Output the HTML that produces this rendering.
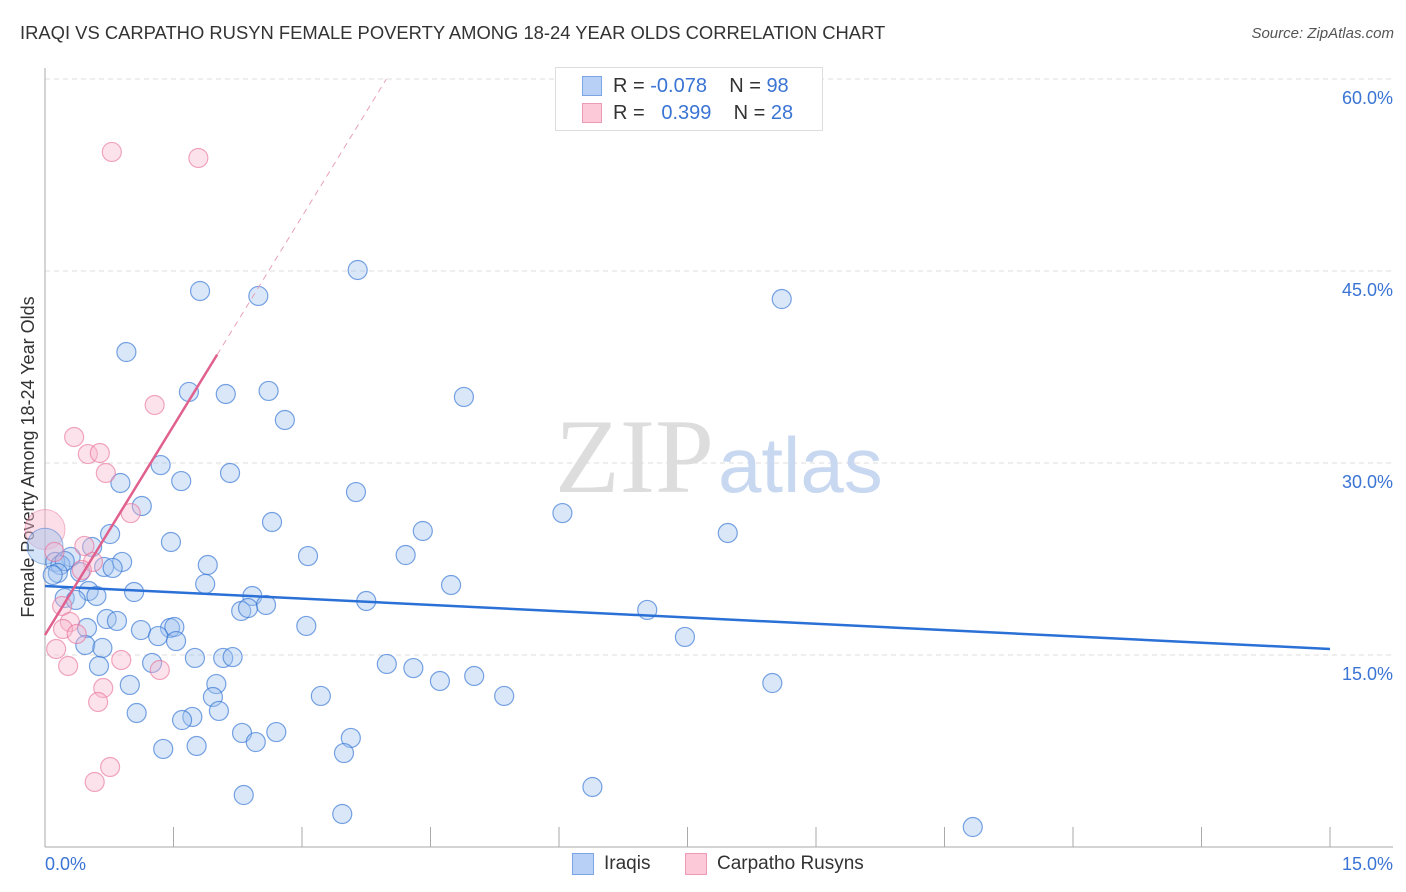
<!DOCTYPE html>
<html><head><meta charset="utf-8"><style>
body{margin:0;background:#fff;font-family:"Liberation Sans",sans-serif}
#w{position:relative;width:1406px;height:892px;overflow:hidden}
.t{position:absolute;white-space:nowrap}
</style></head><body>
<div id="w">
<div class="t" style="left:20px;top:22px;font-size:18.4px;color:#333">IRAQI VS CARPATHO RUSYN FEMALE POVERTY AMONG 18-24 YEAR OLDS CORRELATION CHART</div>
<div class="t" style="right:12px;top:25px;font-size:15px;color:#555;font-style:italic">Source: ZipAtlas.com</div>
<svg id="s" width="1406" height="892" style="position:absolute;left:0;top:0"></svg>
</div>
<script>
const xTicks=[0,1.5,3,4.5,6,7.5,9,10.5,12,13.5,15];
const yTicks=[15,30,45,60];
const yTickLabels=["15.0%","30.0%","45.0%","60.0%"];
const iraqX=[],iraqY=[];
const rusynX=[],rusynY=[];
const iraqPx=[[358,270],[200,291],[258,296],[782,299],[126,352],[189,392],[226,394],[269,391],[464,397],[285,420],[161,465],[230,473],[181,481],[120,483],[356,492],[142,506],[562,513],[272,522],[728,533],[423,531],[110,534],[171,542],[92,547],[308,556],[406,555],[208,565],[122,562],[104,567],[113,568],[71,557],[55,562],[60,565],[65,561],[58,573],[53,575],[80,572],[205,584],[451,585],[134,592],[89,591],[96,596],[65,598],[76,600],[252,596],[366,601],[241,611],[248,608],[266,605],[647,610],[107,619],[117,621],[87,628],[306,626],[141,630],[170,628],[174,627],[158,636],[176,641],[685,637],[85,645],[102,648],[152,663],[195,658],[223,658],[233,657],[387,664],[413,668],[99,666],[474,676],[440,681],[130,685],[216,684],[772,683],[321,696],[213,697],[504,696],[137,713],[219,711],[192,717],[182,720],[242,733],[276,732],[351,738],[256,742],[163,749],[197,746],[344,753],[592,787],[244,795],[342,814],[973,827]];
const rusynPx=[[112,152],[198,158],[155,405],[74,437],[88,454],[100,453],[106,473],[131,513],[84,546],[54,552],[93,562],[82,570],[62,606],[70,622],[63,629],[77,634],[56,649],[68,666],[121,660],[160,670],[103,688],[98,702],[110,767],[95,782]];
iraqPx.forEach(p=>{iraqX.push(+((p[0]-45)/1285*15).toFixed(2));iraqY.push(+((847-p[1])/12.8).toFixed(2));});
rusynPx.forEach(p=>{rusynX.push(+((p[0]-45)/1285*15).toFixed(2));rusynY.push(+((847-p[1])/12.8).toFixed(2));});
const bigRusyn=[0,24.8], bigIraq=[0,23.5];
const iraqTrend=[20.39,15.47];
const rusynTrend=[16.56,10.9];
const X=v=>45+v/15*1285, Y=v=>847-v*12.8;
const s=document.getElementById('s'),NS='http://www.w3.org/2000/svg';
function mk(t,a,name){const e=document.createElementNS(NS,t);for(const k in a)e.setAttribute(k,a[k]);


s.appendChild(e);return e;}
yTicks.forEach((v,i)=>{mk('line',{x1:45,x2:1393,y1:Y(v),y2:Y(v),stroke:'#ddd','stroke-dasharray':'5,4'},'gridline');
const t=mk('text',{x:1393,y:Y(v)+25,'text-anchor':'end','font-size':18,fill:'#3a74d4'},'y-tick-label');t.textContent=yTickLabels[i];});
mk('line',{x1:45,x2:45,y1:68,y2:847,stroke:'#aaa'},'y-axis');
mk('line',{x1:45,x2:1393,y1:847,y2:847,stroke:'#aaa'},'x-axis');
xTicks.forEach(v=>mk('line',{x1:X(v),x2:X(v),y1:827,y2:847,stroke:'#aaa'},'x-tick'));
let t=mk('text',{x:45,y:870,'font-size':18,fill:'#3a74d4'},'x-tick-label');t.textContent='0.0%';
t=mk('text',{x:1393,y:870,'text-anchor':'end','font-size':18,fill:'#3a74d4'},'x-tick-label');t.textContent='15.0%';
t=mk('text',{x:0,y:0,transform:'translate(34,457) rotate(-90)','text-anchor':'middle','font-size':18,fill:'#333'},'y-axis-title');t.textContent='Female Poverty Among 18-24 Year Olds';
t=mk('text',{x:714,y:492,'text-anchor':'end','font-size':106,fill:'#ddd','font-family':'Liberation Serif'},'watermark-zip');t.textContent='ZIP';
t=mk('text',{x:718,y:492,'font-size':78,fill:'#c8d8f0'},'watermark-atlas');t.textContent='atlas';
mk('circle',{cx:X(bigRusyn[0]),cy:Y(bigRusyn[1]),r:20,fill:'rgba(248,182,204,0.45)',stroke:'rgba(232,120,160,0.5)'},'rusyn-point');
mk('circle',{cx:X(bigIraq[0]),cy:Y(bigIraq[1]),r:18,fill:'rgba(160,195,240,0.45)',stroke:'rgba(60,120,210,0.5)'},'iraqi-point');
iraqX.forEach((x,i)=>mk('circle',{cx:X(x),cy:Y(iraqY[i]),r:9.5,fill:'rgba(160,195,240,0.4)',stroke:'rgba(50,115,210,0.65)','stroke-width':1.2},'iraqi-point'));
rusynX.forEach((x,i)=>mk('circle',{cx:X(x),cy:Y(rusynY[i]),r:9.5,fill:'rgba(248,182,204,0.4)',stroke:'rgba(232,110,150,0.6)','stroke-width':1.2},'rusyn-point'));
mk('line',{x1:X(0),y1:Y(iraqTrend[0]),x2:X(15),y2:Y(iraqTrend[1]),stroke:'#2a70d6','stroke-width':2.5},'iraqi-trendline');
const xe=2.01, xd=(60-rusynTrend[0])/rusynTrend[1];
mk('line',{x1:X(0),y1:Y(rusynTrend[0]),x2:X(xe),y2:Y(rusynTrend[0]+rusynTrend[1]*xe),stroke:'#e0608e','stroke-width':2.5},'rusyn-trendline');
mk('line',{x1:X(xe),y1:Y(rusynTrend[0]+rusynTrend[1]*xe),x2:X(xd),y2:Y(60),stroke:'#e8a0b8','stroke-width':1,'stroke-dasharray':'6,5'},'rusyn-trend-extension');
</script>
<div class="t" style="left:555px;top:67px;width:266px;height:62px;border:1px solid #ddd;background:#fff">
<div class="t" style="left:26px;top:8px;width:18px;height:18px;background:#b8d0f5;border:1px solid #7aa6e6"></div>
<div class="t" style="left:26px;top:35px;width:18px;height:18px;background:#fbc9d8;border:1px solid #ef9ab5"></div>
<div class="t" style="left:57px;top:7px;font-size:20px;color:#333">R = <span style="color:#3a74d4">-0.078</span>&nbsp;&nbsp;&nbsp;&nbsp;N = <span style="color:#3a74d4">98</span></div>
<div class="t" style="left:57px;top:34px;font-size:20px;color:#333">R = &nbsp;&nbsp;<span style="color:#3a74d4">0.399</span>&nbsp;&nbsp;&nbsp;&nbsp;N = <span style="color:#3a74d4">28</span></div>
</div>
<div class="t" style="left:572px;top:853px;width:20px;height:20px;background:#b8d0f5;border:1px solid #7aa6e6"></div>
<div class="t" style="left:604px;top:853px;font-size:19px;color:#333">Iraqis</div>
<div class="t" style="left:685px;top:853px;width:20px;height:20px;background:#fbc9d8;border:1px solid #ef9ab5"></div>
<div class="t" style="left:717px;top:853px;font-size:19px;color:#333">Carpatho Rusyns</div>
</body></html>
